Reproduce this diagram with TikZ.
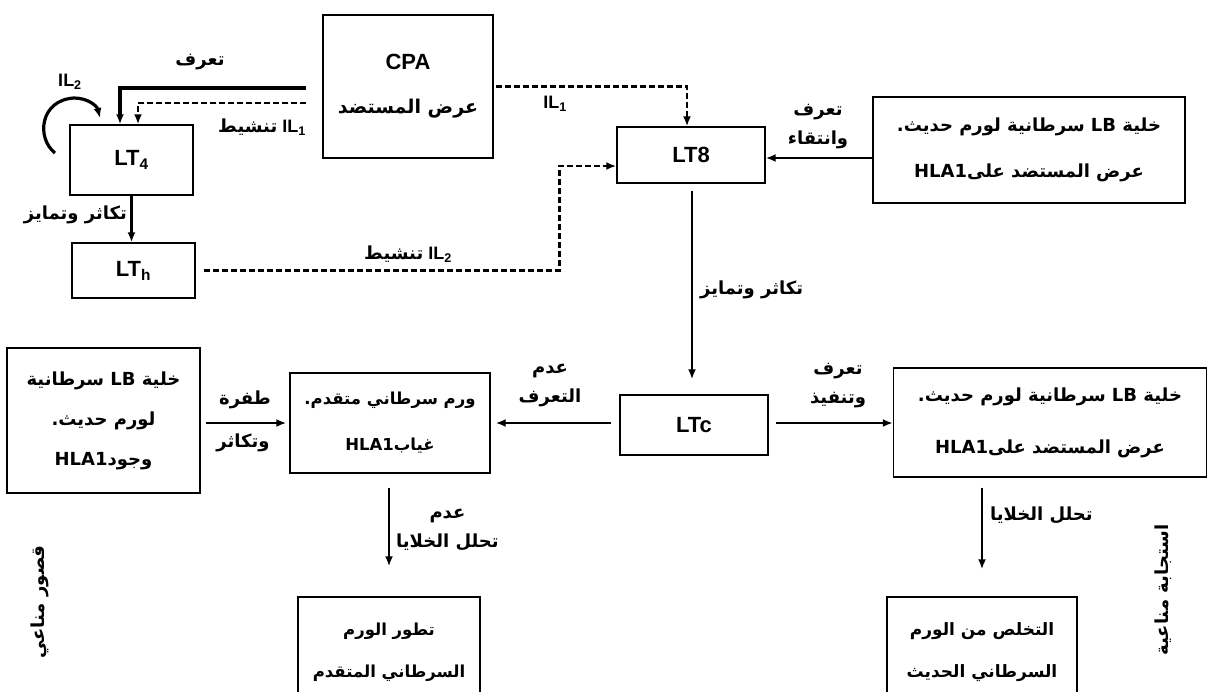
\documentclass[tikz,border=0pt]{standalone}
\usepackage{fontspec}
\setmainfont{Liberation Sans}
\newfontfamily\arabicfont[Script=Arabic]{DejaVu Sans}
\TeXXeTstate=1
\usetikzlibrary{arrows.meta}
\newcommand{\ar}[1]{{\arabicfont\bfseries\beginR #1\endR}}
\newcommand{\lat}[1]{\beginL #1\endL{}}
\tikzset{
  box/.style={draw, line width=1.4pt, inner sep=0pt, align=center, font=\bfseries\fontsize{18}{46}\selectfont},
  lbox/.style={box, font=\bfseries\fontsize{22}{26}\selectfont},
  lbl/.style={inner sep=0pt, align=center, font=\bfseries\fontsize{18}{29}\selectfont},
  arr/.style={line width=2.2pt, -{Latex[length=10pt,width=8pt]}},
  thickarr/.style={line width=3.2pt, -{Latex[length=10pt,width=8pt]}},
  dsharr/.style={line width=2.6pt, dash pattern=on 6pt off 3pt, -{Latex[length=10pt,width=8pt]}},
  vtext/.style={inner sep=0pt, rotate=90, font=\bfseries\fontsize{18}{20}\selectfont}
}
\begin{document}
\begin{tikzpicture}[x=1pt,y=-1pt]
\useasboundingbox (0,0) rectangle (1212,691);
% boxes
\node[lbox, minimum width=170pt, minimum height=143pt] (cpa) at (408,86.5) {CPA\\[18pt]{\fontsize{19}{22}\selectfont\ar{عرض المستضد}}};
\node[lbox, minimum width=123pt, minimum height=70pt] (lt4) at (131.5,160) {LT\textsubscript{4}};
\node[lbox, minimum width=123pt, minimum height=55pt] (lth) at (133.5,270.5) {LT\textsubscript{h}};
\node[lbox, minimum width=148pt, minimum height=56pt] (lt8) at (691,155) {LT8};
\node[box, minimum width=312pt, minimum height=106pt] (rtop) at (1029,150) {\ar{خلية LB سرطانية لورم حديث.}\\\ar{عرض المستضد على\lat{HLA1}}};
\node[lbox, minimum width=148pt, minimum height=60pt] (ltc) at (694,425) {LTc};
\node[box, minimum width=200pt, minimum height=100pt, font=\bfseries\fontsize{16.5}{46}\selectfont] (mid) at (390,423) {\ar{ورم سرطاني متقدم.}\\\ar{غياب\lat{HLA1}}};
\node[box, minimum width=193pt, minimum height=145pt, font=\bfseries\fontsize{18}{40}\selectfont] (lbot) at (103.5,420.5) {\ar{خلية LB سرطانية}\\\ar{لورم حديث.}\\\ar{وجود\lat{HLA1}}};
\node[box, minimum width=313pt, minimum height=109pt, font=\bfseries\fontsize{18}{52}\selectfont] (rbot) at (1050,422.5) {\ar{خلية LB سرطانية لورم حديث.}\\\ar{عرض المستضد على\lat{HLA1}}};
\node[box, minimum width=182pt, minimum height=110pt, font=\bfseries\fontsize{16.5}{42}\selectfont] (dev) at (389,652) {\ar{تطور الورم}\\\ar{السرطاني المتقدم}};
\node[box, minimum width=190pt, minimum height=110pt, font=\bfseries\fontsize{17}{42}\selectfont] (elim) at (982,652) {\ar{التخلص من الورم}\\\ar{السرطاني الحديث}};
% connectors top-left
\draw[thickarr] ([xshift=-16pt,yshift=-1.5pt]cpa.west) -| ([xshift=-11.5pt]lt4.north);
\draw[dsharr] ([xshift=-16pt,yshift=-16.5pt]cpa.west) -| ([xshift=6.5pt]lt4.north);
\node[lbl] (tl1) at (200,62) {\ar{تعرف}};
\node[lbl] (tl2) at (262,127) {\ar{تنشيط}~IL\textsubscript{1}};
\coordinate (il2s) at (55,153);
\coordinate (il2e) at (100,118);
\draw[thickarr] (il2s) .. controls (36,138) and (40,100) .. (74,98) .. controls (88,98) and (97,106) .. (il2e);
\node[lbl] (il2) at (70,82) {IL\textsubscript{2}};
\draw[arr] (lt4.south) -- (lt4.south |- lth.north);
\node[lbl, anchor=east] (tl3) at (127,215) {\ar{تكاثر وتمايز}};
\draw[dsharr] ([xshift=8pt]lth.east) -| ([xshift=-57pt,yshift=-11pt]lt8.west) -- ([yshift=-11pt]lt8.west);
\node[lbl] (tl4) at (408,254) {\ar{تنشيط}~IL\textsubscript{2}};
\draw[dsharr] ([xshift=2pt]cpa.east) -| ([xshift=-4pt]lt8.north);
\node[lbl] (tl5) at (555,104) {IL\textsubscript{1}};
\draw[arr] ([yshift=-8pt]rtop.west) -- ([yshift=-8pt]rtop.west -| lt8.east);
\node[lbl] (tl6) at (818,127) {\ar{تعرف}\\\ar{وانتقاء}};
\draw[arr] ([xshift=1pt,yshift=-7pt]lt8.south) -- ([xshift=-2pt,yshift=15pt]ltc.north);
\node[lbl, anchor=west] (tl7) at (700,290) {\ar{تكاثر وتمايز}};
% middle row
\draw[arr] ([xshift=-8pt,yshift=2pt]ltc.west) -- ([xshift=5pt]mid.east);
\node[lbl] (tl8) at (550,386) {\ar{عدم}\\\ar{التعرف}};
\draw[arr] ([xshift=5pt]lbot.east |- mid.west) -- ([xshift=-3pt]mid.west);
\node[lbl] (tl9) at (245,400) {\ar{طفرة}};
\node[lbl] (tl10) at (243,443) {\ar{وتكاثر}};
\draw[arr] ([xshift=7pt,yshift=2pt]ltc.east) -- ([yshift=2pt]ltc.east -| rbot.west);
\node[lbl] (tl11) at (838,386) {\ar{تعرف}\\\ar{وتنفيذ}};
% bottom
\draw[arr] ([yshift=-14pt]mid.south -| dev.north) -- ([yshift=30pt]dev.north);
\node[lbl, anchor=west] (tl12) at (396,530) {\ar{عدم}\\\ar{تحلل الخلايا}};
\draw[arr] ([yshift=-10pt]rbot.south -| elim.north) -- ([yshift=27pt]elim.north);
\node[lbl, anchor=west] (tl13) at (990,515) {\ar{تحلل الخلايا}};
\node[vtext] (v1) at (40,602) {\ar{قصور مناعي}};
\node[vtext] (v2) at (1163,590) {\ar{استجابة مناعية}};
\end{tikzpicture}
\end{document}
